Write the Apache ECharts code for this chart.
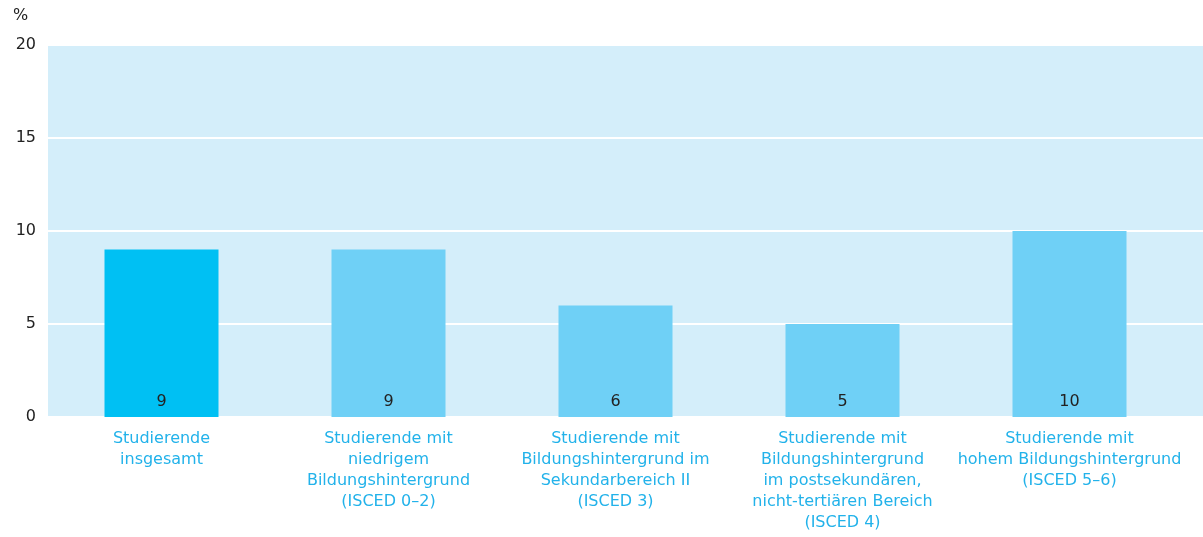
<!DOCTYPE html>
<html>
<head>
<meta charset="utf-8">
<script src="https://cdn.jsdelivr.net/npm/echarts@6/dist/echarts.min.js"></script>
<style>
  html, body { margin: 0; padding: 0; background: #fff; }
  #chart { width: 1203px; height: 537px; }
</style>
</head>
<body>
<div id="chart"></div>
<script>
// Anteil in Prozent nach Bildungshintergrund
const categories = [
  'Studierende\ninsgesamt',
  'Studierende mit\nniedrigem\nBildungshintergrund\n(ISCED 0–2)',
  'Studierende mit\nBildungshintergrund im\nSekundarbereich II\n(ISCED 3)',
  'Studierende mit\nBildungshintergrund\nim postsekundären,\nnicht-tertiären Bereich\n(ISCED 4)',
  'Studierende mit\nhohem Bildungshintergrund\n(ISCED 5–6)'
];
const values = [9, 9, 6, 5, 10];
const yTicks = [0, 5, 10, 15, 20];

const FONT = '"DejaVu Sans", Verdana, sans-serif';
const barColors = ['#00c0f3', '#6fd0f6', '#6fd0f6', '#6fd0f6', '#6fd0f6'];

const chart = echarts.init(document.getElementById('chart'), null, { renderer: 'canvas' });
chart.setOption({
  animation: false,
  textStyle: { fontFamily: FONT },
  graphic: [{
    type: 'text', left: 13, top: 8,
    style: { text: '%', font: '16px ' + FONT, fill: '#222' }
  }],
  grid: [
    // background panel with horizontal rules
    { left: 48, right: 0, top: 45, bottom: 120, show: true, backgroundColor: '#d4eefa', borderWidth: 0 },
    // bar area
    { left: 48, right: 20, top: 45, bottom: 120 }
  ],
  xAxis: [
    { gridIndex: 0, type: 'value', show: false, min: 0, max: 1 },
    {
      gridIndex: 1, type: 'category', data: categories,
      axisLine: { show: false }, axisTick: { show: false },
      axisLabel: { interval: 0, color: '#22b2ea', fontSize: 16, lineHeight: 21, margin: 11, fontFamily: FONT }
    }
  ],
  yAxis: [
    {
      gridIndex: 0, type: 'value', min: yTicks[0], max: yTicks[yTicks.length - 1], interval: 5,
      axisLine: { show: false }, axisTick: { show: false },
      axisLabel: { color: '#222', fontSize: 16, margin: 12, fontFamily: FONT },
      splitLine: { show: true, lineStyle: { color: '#ffffff', width: 2 } }
    },
    { gridIndex: 1, type: 'value', min: 0, max: 20, show: false, splitLine: { show: false } }
  ],
  series: [{
    type: 'bar', xAxisIndex: 1, yAxisIndex: 1,
    barWidth: 114,
    data: values.map((v, i) => ({ value: v, itemStyle: { color: barColors[i] } })),
    label: {
      show: true, position: 'insideBottom', distance: 7,
      color: '#222', fontSize: 16, fontFamily: FONT
    },
    z: 3
  }]
});
</script>
</body>
</html>
